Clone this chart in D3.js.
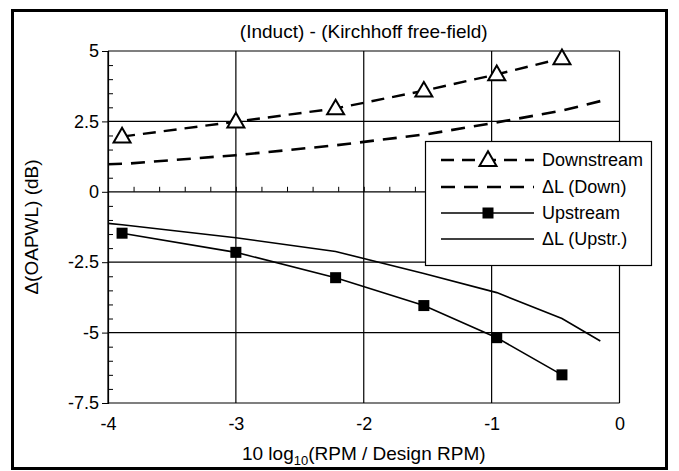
<!DOCTYPE html>
<html><head><meta charset="utf-8">
<script src="https://cdn.jsdelivr.net/npm/d3@7/dist/d3.min.js"></script>
<style>
html,body{margin:0;padding:0;background:#fff;}
svg text{font-family:"Liberation Sans",Arial,sans-serif;fill:#000;}
</style></head>
<body><svg id="chart" width="679" height="471"></svg>
<script>
// ---- data ----
const title = "(Induct) - (Kirchhoff free-field)";
const xTicks = [-4, -3, -2, -1, 0];
const xTickLabels = ["-4", "-3", "-2", "-1", "0"];
const yTicks = [5, 2.5, 0, -2.5, -5, -7.5];
const yTickLabels = ["5", "2.5", "0", "-2.5", "-5", "-7.5"];
const xPts = [-3.89, -3.0, -2.22, -1.53, -0.96, -0.45];
const downstream = [1.96, 2.49, 2.96, 3.59, 4.17, 4.74];
const upstream = [-1.47, -2.15, -3.05, -4.04, -5.18, -6.5];
const xDeltaDown = [-4.0, -3.85, -3.0, -2.22, -1.5, -0.98, -0.45, -0.15];
const deltaDown = [0.98, 1.0, 1.3, 1.65, 2.05, 2.45, 2.88, 3.22];
const xDeltaUp = [-4.0, -3.89, -3.0, -2.22, -1.53, -0.96, -0.45, -0.15];
const deltaUp = [-1.12, -1.17, -1.63, -2.12, -2.9, -3.58, -4.5, -5.3];
const legendLabels = ["Downstream", "\u0394L (Down)", "Upstream", "\u0394L (Upstr.)"];

const svg = d3.select("#chart");
const L = 108, R = 619.5, T = 51, B = 403;
const x = d3.scaleLinear().domain([-4, 0]).range([L, R]);
const y = d3.scaleLinear().domain([-7.5, 5]).range([B, T]);

// outer frame
svg.append("rect").attr("x", 12.5).attr("y", 10.5).attr("width", 654).attr("height", 458)
  .attr("fill", "none").attr("stroke", "#000").attr("stroke-width", 3);

// grid
const g = svg.append("g");
g.selectAll(".hg").data(yTicks).enter().append("line")
  .attr("x1", L).attr("x2", R).attr("y1", d => y(d)).attr("y2", d => y(d))
  .attr("stroke", "#000").attr("stroke-width", 1.2);
g.selectAll(".vg").data(xTicks).enter().append("line")
  .attr("y1", T).attr("y2", B).attr("x1", d => x(d)).attr("x2", d => x(d))
  .attr("stroke", "#000").attr("stroke-width", 1.2);

// y axis with labels and outward major ticks
const yAxis = d3.axisLeft(y).tickValues(yTicks).tickSize(6).tickPadding(3)
  .tickFormat((d, i) => yTickLabels[i]);
const ya = svg.append("g").attr("transform", `translate(${L},0)`).call(yAxis);
ya.select(".domain").attr("stroke-width", 1.2);
ya.selectAll("text").attr("font-size", 18);

// y minor ticks inside
const yMinor = d3.range(-7.5, 5.01, 0.5).filter(v => Math.abs(v / 2.5 - Math.round(v / 2.5)) > 1e-6);
const ym = svg.append("g").attr("transform", `translate(${L},0)`)
  .call(d3.axisRight(y).tickValues(yMinor).tickSize(5).tickFormat(""));
ym.select(".domain").remove();

// x minor ticks on y=0 line (pointing up)
const xMinor = d3.range(-4, 0.001, 0.2);
const xm = svg.append("g").attr("transform", `translate(0,${y(0)})`)
  .call(d3.axisTop(x).tickValues(xMinor).tickSize(5).tickFormat(""));
xm.select(".domain").remove();

// x labels at bottom
const xa = svg.append("g").attr("transform", `translate(0,${B})`)
  .call(d3.axisBottom(x).tickValues(xTicks).tickSize(0).tickPadding(14).tickFormat((d, i) => xTickLabels[i]));
xa.select(".domain").remove();
xa.selectAll("text").attr("font-size", 18);

// lines
const lineGen = d3.line().x(d => x(d[0])).y(d => y(d[1]));
const zip = (a, b) => a.map((v, i) => [v, b[i]]);
const plot = svg.append("g");
plot.append("path").datum(zip(xDeltaDown, deltaDown)).attr("d", lineGen)
  .attr("fill", "none").attr("stroke", "#000").attr("stroke-width", 2.6).attr("stroke-dasharray", "14,9");
plot.append("path").datum(zip(xPts, downstream)).attr("d", lineGen)
  .attr("fill", "none").attr("stroke", "#000").attr("stroke-width", 2.4).attr("stroke-dasharray", "13,8");
plot.append("path").datum(zip(xDeltaUp, deltaUp)).attr("d", lineGen)
  .attr("fill", "none").attr("stroke", "#000").attr("stroke-width", 1.6);
plot.append("path").datum(zip(xPts, upstream)).attr("d", lineGen)
  .attr("fill", "none").attr("stroke", "#000").attr("stroke-width", 1.6);

const tri = d3.symbol().type(d3.symbolTriangle).size(125);
plot.selectAll(".tri").data(zip(xPts, downstream)).enter().append("path")
  .attr("d", tri).attr("transform", d => `translate(${x(d[0])},${y(d[1]) + 1})`)
  .attr("fill", "#fff").attr("stroke", "#000").attr("stroke-width", 2);
plot.selectAll(".sq").data(zip(xPts, upstream)).enter().append("rect")
  .attr("x", d => x(d[0]) - 5.5).attr("y", d => y(d[1]) - 5.5).attr("width", 11).attr("height", 11)
  .attr("fill", "#000");

// legend
const lg = svg.append("g");
lg.append("rect").attr("x", 425.5).attr("y", 141.5).attr("width", 226).attr("height", 124)
  .attr("fill", "#fff").attr("stroke", "#000").attr("stroke-width", 1.2);
const rowsY = [160, 187, 213, 239];
const styles = [
  {w: 2.4, dash: "13,8", mark: "tri"},
  {w: 2.6, dash: "14,9", mark: null},
  {w: 1.6, dash: null, mark: "sq"},
  {w: 1.6, dash: null, mark: null}
];
styles.forEach((s, i) => {
  const yy = rowsY[i];
  const ln = lg.append("line").attr("x1", 441).attr("x2", 534).attr("y1", yy).attr("y2", yy)
    .attr("stroke", "#000").attr("stroke-width", s.w);
  if (s.dash) ln.attr("stroke-dasharray", s.dash);
  if (s.mark === "tri") lg.append("path").attr("d", tri).attr("transform", `translate(488,${yy + 1})`)
    .attr("fill", "#fff").attr("stroke", "#000").attr("stroke-width", 2);
  if (s.mark === "sq") lg.append("rect").attr("x", 482.5).attr("y", yy - 5.5).attr("width", 11).attr("height", 11).attr("fill", "#000");
  lg.append("text").attr("x", 542).attr("y", yy).attr("dy", "0.36em").attr("font-size", 18).text(legendLabels[i]);
});

// titles
svg.append("text").attr("x", (L + R) / 2).attr("y", 38).attr("text-anchor", "middle")
  .attr("font-size", 19).text(title);
const xt = svg.append("text").attr("x", (L + R) / 2).attr("y", 460).attr("text-anchor", "middle").attr("font-size", 19);
xt.append("tspan").text("10 log");
xt.append("tspan").attr("font-size", 13).attr("dy", 5).text("10");
xt.append("tspan").attr("dy", -5).text("(RPM / Design RPM)");
svg.append("text").attr("transform", `translate(38,${(T + B) / 2}) rotate(-90)`).attr("text-anchor", "middle")
  .attr("font-size", 19).text("\u0394(OAPWL) (dB)");
</script></body></html>
